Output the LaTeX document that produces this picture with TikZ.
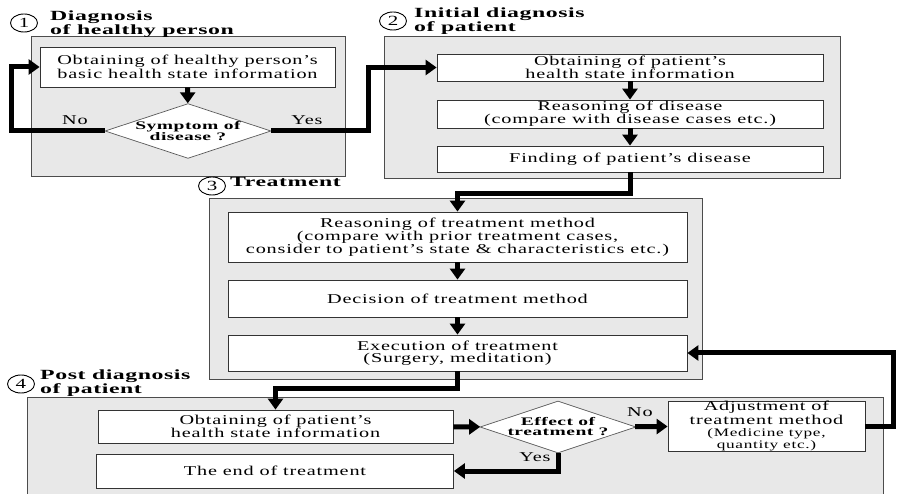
\documentclass[tikz,border=0pt]{standalone}
\usepackage{fontspec}
\setmainfont[FakeStretch=1.5,LetterSpace=6]{Liberation Serif}
\newfontfamily\headfont[FakeStretch=1.7,LetterSpace=4]{Liberation Serif Bold}
\usetikzlibrary{shapes.geometric,arrows.meta}

\begin{document}
\begin{tikzpicture}[x=1pt,y=-1pt,
  panel/.style={draw=black!70,fill=black!9,line width=0.8pt},
  box/.style={draw=black!80,fill=white,line width=0.8pt,align=center,inner sep=0pt,font=\fontsize{13.5}{12}\selectfont},
  test/.style={diamond,aspect=3,draw=black!65,fill=white,line width=0.7pt,inner sep=0pt,align=center,font=\headfont\fontsize{11.5}{10}\selectfont},
  flow/.style={line width=5pt,-{Triangle[length=11pt,width=15pt]}},
  num/.style={ellipse,draw,line width=0.9pt,inner sep=0pt,minimum width=27pt,minimum height=18pt,font=\fontsize{14}{14}\selectfont},
  head/.style={anchor=north west,inner sep=0pt,align=left,font=\headfont\fontsize{14}{12}\selectfont},
  lbl/.style={font=\fontsize{13.5}{13}\selectfont}]

\useasboundingbox (0,0) rectangle (900,494);
\clip (0,0) rectangle (900,494);

% Panels
\draw[panel] (31,36) rectangle (345,176);
\draw[panel] (384,36) rectangle (840,178);
\draw[panel] (209,198) rectangle (702,379);
\draw[panel] (27,397) rectangle (883,510);

% Headings
\node[num] (n1) at (24,23) {1};
\node[head] (h1) at (50,11) {Diagnosis\\of healthy person};
\node[num] (n2) at (393,21) {2};
\node[head] (h2) at (414,8) {Initial diagnosis\\of patient};
\node[num] (n3) at (212,186) {3};
\node[head] (h3) at (230,177) {Treatment};
\node[num] (n4) at (21,384) {4};
\node[head] (h4) at (40,370) {Post diagnosis\\of patient};

% 1: healthy person
\node[box,minimum width=295pt,minimum height=40pt] (p1a) at (187.5,67) {Obtaining of healthy person's\\basic health state information};
\node[test,minimum width=166pt,minimum height=54pt] (d1) at (188,131) {Symptom of\\disease ?};

% 2: initial diagnosis
\node[box,minimum width=386pt,minimum height=27pt] (p2a) at (630,67.5) {Obtaining of patient's\\health state information};
\node[box,minimum width=386pt,minimum height=28pt] (p2b) at (630,114) {Reasoning of disease\\(compare with disease cases etc.)};
\node[box,minimum width=386pt,minimum height=26pt] (p2c) at (630,159) {Finding of patient's disease};

% 3: treatment
\node[box,minimum width=459pt,minimum height=50pt] (p3a) at (457.5,237) {Reasoning of treatment method\\(compare with prior treatment cases,\\consider to patient's state \& characteristics etc.)};
\node[box,minimum width=459pt,minimum height=37pt] (p3b) at (457.5,298.5) {Decision of treatment method};
\node[box,minimum width=459pt,minimum height=36pt] (p3c) at (457.5,353) {Execution of treatment\\(Surgery, meditation)};

% 4: post diagnosis
\node[box,minimum width=355pt,minimum height=33pt] (p4a) at (275.5,426.5) {Obtaining of patient's\\health state information};
\node[box,minimum width=357pt,minimum height=34pt] (p4b) at (275,471) {The end of treatment};
\node[test,minimum width=140pt,minimum height=47pt] (d2) at (558,427) {Effect of\\treatment ?};
\node[box,minimum width=197pt,minimum height=50pt] (p4c) at (766.5,426) {Adjustment of\\treatment method\\{\fontsize{11.5}{11}\selectfont (Medicine type,}\\{\fontsize{11.5}{11}\selectfont quantity etc.)}};

% Answers
\node[lbl] (no1) at (75,120) {No};
\node[lbl] (yes1) at (307,120) {Yes};
\node[lbl] (no2) at (640,412) {No};
\node[lbl] (yes2) at (535,457) {Yes};

% Flow
\draw[flow] (p1a) -- (d1);
\draw[flow] (d1.west) -- ++(-93,0) |- (p1a.west);
\draw[flow] (d1.east) -- ++(97,0) |- (p2a.west);
\draw[flow] (p2a) -- (p2b);
\draw[flow] (p2b) -- (p2c);
\draw[flow] (p2c.south) -- ++(0,21) -| (p3a.north);
\draw[flow] (p3a) -- (p3b);
\draw[flow] (p3b) -- (p3c);
\draw[flow] (p3c.south) -- ++(0,17) -| (p4a.north);
\draw[flow] (p4a) -- (d2);
\draw[flow] (d2) -- (p4c);
\draw[flow] (d2.south) |- (p4b.east);
\draw[flow] (p4c.east) -- ++(28,0) |- (p3c.east);

\end{tikzpicture}
\end{document}
